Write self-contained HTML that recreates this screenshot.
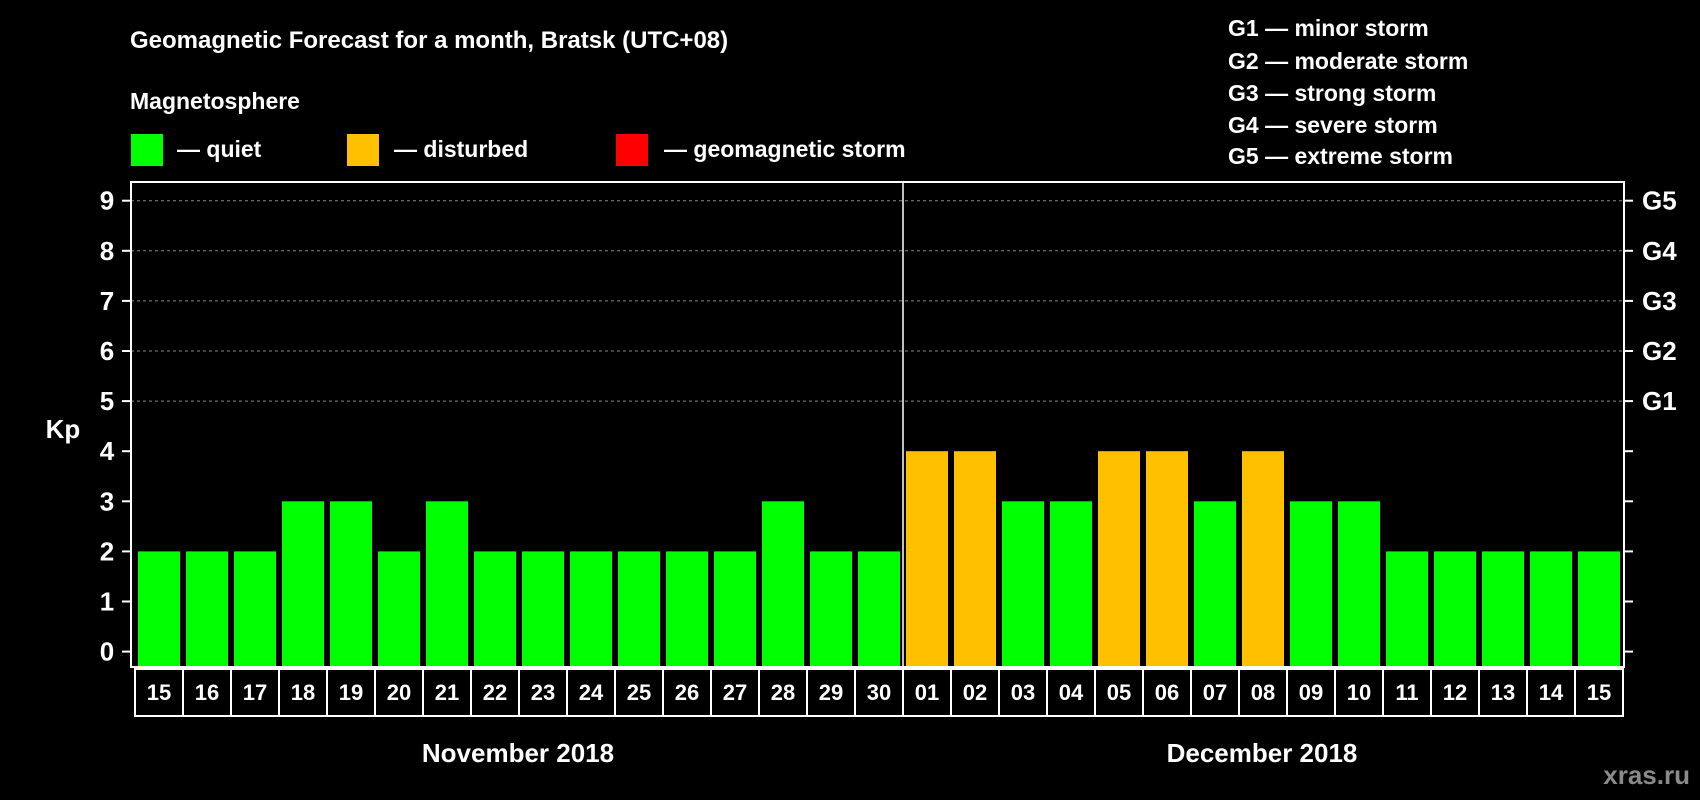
<!DOCTYPE html>
<html><head><meta charset="utf-8"><style>
html,body{margin:0;padding:0;background:#000;}
svg{display:block;font-family:"Liberation Sans",Arial,sans-serif;font-weight:bold;}
</style></head><body>
<svg id="chart" width="1700" height="800" viewBox="0 0 1700 800" xmlns="http://www.w3.org/2000/svg">
<rect width="1700" height="800" fill="#000"/>
<text x="130" y="48" fill="#fff" font-size="24">Geomagnetic Forecast for a month, Bratsk (UTC+08)</text>
<text x="130" y="109" fill="#fff" font-size="23">Magnetosphere</text>
<g>
<rect x="131" y="134" width="32" height="32" fill="#00ff00"/>
<text x="177" y="157" fill="#fff" font-size="23">— quiet</text>
<rect x="347" y="134" width="32" height="32" fill="#ffc000"/>
<text x="394" y="157" fill="#fff" font-size="23">— disturbed</text>
<rect x="616" y="134" width="32" height="32" fill="#ff0000"/>
<text x="664" y="157" fill="#fff" font-size="23">— geomagnetic storm</text>
</g>
<g fill="#fff" font-size="23">
<text x="1228" y="36">G1 — minor storm</text>
<text x="1228" y="69">G2 — moderate storm</text>
<text x="1228" y="101">G3 — strong storm</text>
<text x="1228" y="133">G4 — severe storm</text>
<text x="1228" y="164">G5 — extreme storm</text>
</g>
<text x="63" y="438" fill="#fff" font-size="26" text-anchor="middle">Kp</text>
<text x="518" y="762" fill="#fff" font-size="26" text-anchor="middle">November 2018</text>
<text x="1262" y="762" fill="#fff" font-size="26" text-anchor="middle">December 2018</text>
<text x="1690" y="784" fill="#8a8a8a" font-size="26" text-anchor="end">xras.ru</text>
<g id="plot"></g>
</svg>
<script>
const days = ["15","16","17","18","19","20","21","22","23","24","25","26","27","28","29","30","01","02","03","04","05","06","07","08","09","10","11","12","13","14","15"];
const kpValues = [2,2,2,3,3,2,3,2,2,2,2,2,2,3,2,2,4,4,3,3,4,4,3,4,3,3,2,2,2,2,2];
const yTicks = [0,1,2,3,4,5,6,7,8,9];
const gLabels = ["G1","G2","G3","G4","G5"];
const gLevels = [5,6,7,8,9];

const NS = "http://www.w3.org/2000/svg";
const plot = document.getElementById("plot");
const L = 131, R = 1624, T = 182, B = 667;
const y = v => 651.6 - v * 50.1;
const slot = i => 135 + i * 48;
function mk(tag, attrs) {
  const e = document.createElementNS(NS, tag);
  for (const k in attrs) e.setAttribute(k, attrs[k]);
  plot.appendChild(e);
  return e;
}
// grid
gLevels.forEach((v) => {
  const g = mk("line", {x1: L, x2: R, y1: y(v), y2: y(v), stroke: "#888", "stroke-width": 1, "stroke-dasharray": "3,3"});
  
  
});
// bars
kpValues.forEach((v, i) => {
  const b = mk("rect", {x: slot(i) + 3, y: y(v), width: 42, height: B - y(v), fill: v >= 5 ? "#ff0000" : (v >= 4 ? "#ffc000" : "#00ff00")});
  
  
});
// frame
const fr = mk("rect", {x: L, y: T, width: R - L, height: B - T, fill: "none", stroke: "#fff", "stroke-width": 2});


const sep = mk("line", {x1: slot(16), x2: slot(16), y1: T, y2: B, stroke: "#fff", "stroke-width": 1.5});


// y ticks
yTicks.forEach(v => {
  const t = mk("line", {x1: L - 9, x2: L, y1: y(v), y2: y(v), stroke: "#fff", "stroke-width": 2});
  
  
  const t2 = mk("line", {x1: R, x2: R + 9, y1: y(v), y2: y(v), stroke: "#fff", "stroke-width": 2});
  
  
  const lb = mk("text", {x: 107, y: y(v) + 9, fill: "#fff", "font-size": 26, "text-anchor": "middle"});
  lb.textContent = v;
  
  
});
gLabels.forEach((g, i) => {
  const lb = mk("text", {x: 1642, y: y(gLevels[i]) + 9, fill: "#fff", "font-size": 26});
  lb.textContent = g;
  
  
});
// date boxes
days.forEach((d, i) => {
  const bx = mk("rect", {x: slot(i), y: 669, width: 48, height: 47, fill: "#000", stroke: "#fff", "stroke-width": 2});
  
  
  const tx = mk("text", {x: slot(i) + 24, y: 700, fill: "#fff", "font-size": 22, "text-anchor": "middle"});
  tx.textContent = d;
  
  
});
</script>
</body></html>
